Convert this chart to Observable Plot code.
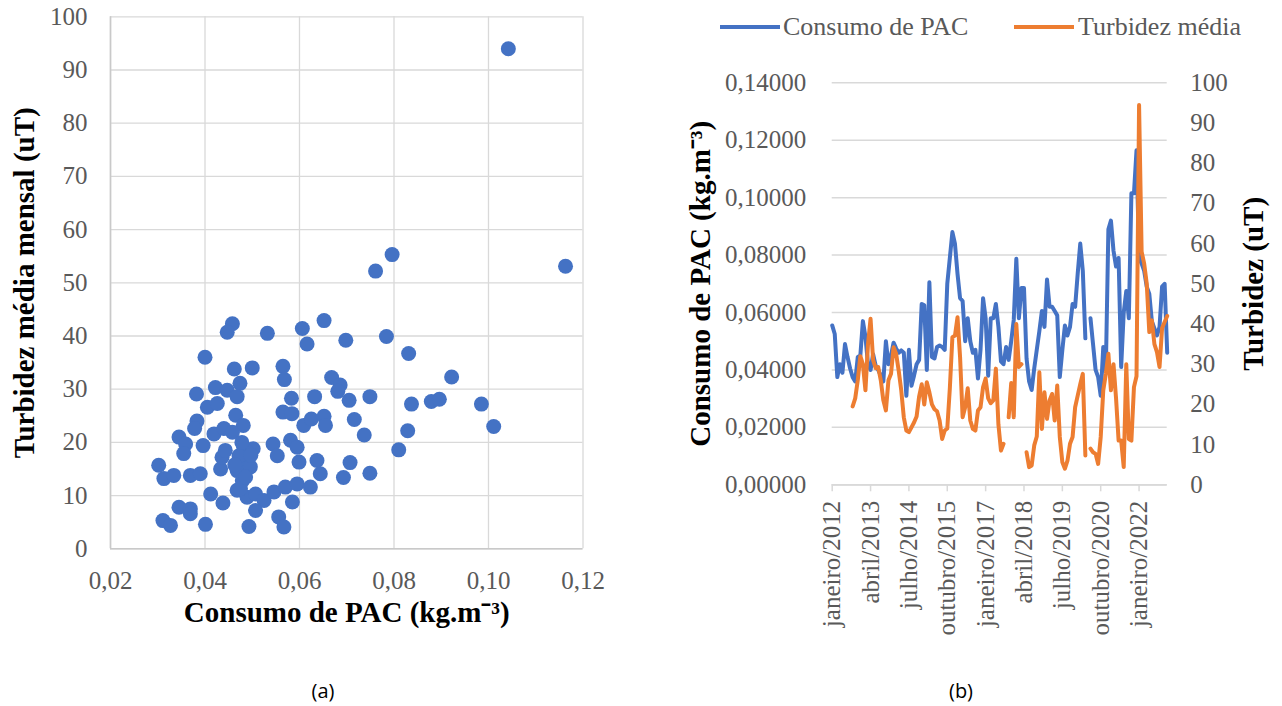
<!DOCTYPE html>
<html>
<head>
<meta charset="utf-8">
<script src="https://cdn.jsdelivr.net/npm/d3@7"></script>
<script src="https://cdn.jsdelivr.net/npm/@observablehq/plot@0.6"></script>
<style>
  html, body { margin: 0; padding: 0; background: #fff; }
  body { width: 1282px; height: 706px; position: relative; overflow: hidden; font-family: "Liberation Serif", "Times New Roman", serif; }
  #panelA { position: absolute; left: 0; top: 0; }
  #panelB { position: absolute; left: 640px; top: 0; }
  .legline { position: absolute; height: 4px; top: 25px; }
  .legtext { position: absolute; top: 12px; font-size: 26px; line-height: 30px; color: #595959; white-space: nowrap; }
  .cap { position: absolute; top: 677px; font-family: "Open Sans", "Liberation Sans", sans-serif; font-size: 20px; line-height: 28px; color: #000; transform: translateX(-50%); }
</style>
</head>
<body>
<div id="panelA"></div>
<div id="panelB"></div>
<div class="legline" style="left:720px;width:60px;background:#4472C4"></div>
<div class="legtext" style="left:783px">Consumo de PAC</div>
<div class="legline" style="left:1014px;width:60px;background:#ED7D31"></div>
<div class="legtext" style="left:1078px">Turbidez média</div>
<div class="cap" style="left:323px">(a)</div>
<div class="cap" style="left:961px">(b)</div>
<script>
// ---------- Panel (a): scatter data ----------
const pacScatter = [
  0.0458, 0.0447, 0.0532, 0.0606, 0.0652, 0.0616, 0.0400, 0.0462, 0.0500, 0.0565,
  0.0568, 0.0668, 0.0382, 0.0422, 0.0447, 0.0474, 0.0468, 0.0405, 0.0426, 0.0583,
  0.0632, 0.0565, 0.0584, 0.0383, 0.0378, 0.0465, 0.0481, 0.0609, 0.0625, 0.0652,
  0.0655, 0.0345, 0.0359, 0.0355, 0.0396, 0.0419, 0.0440, 0.0458, 0.0482, 0.0502,
  0.0489, 0.0544, 0.0553, 0.0581, 0.0595, 0.0599, 0.0637, 0.0644, 0.0302, 0.0313,
  0.0334, 0.0369, 0.0390, 0.0433, 0.0436, 0.0443, 0.0468, 0.0479, 0.0468, 0.0489,
  0.0507, 0.0525, 0.0507, 0.0412, 0.0438, 0.0546, 0.0570, 0.0595, 0.0623, 0.0585,
  0.0345, 0.0369, 0.0369, 0.0311, 0.0327, 0.0401, 0.0493, 0.0556, 0.0567, 0.0475,
  0.0489, 0.0496, 0.0472, 0.0486, 0.0463, 0.0497, 0.0478,
  0.0796, 0.0761, 0.1163, 0.0698, 0.0784, 0.0831, 0.0686, 0.0681, 0.0705, 0.0749,
  0.0837, 0.0879, 0.0896, 0.0922, 0.0985, 0.1011, 0.0716, 0.0737, 0.0829, 0.0810,
  0.0707, 0.0693, 0.0749, 0.1042
];
const turbScatter = [
  42.3, 40.7, 40.5, 41.4, 42.9, 38.5, 36.0, 33.8, 34.0, 34.3,
  31.8, 32.2, 29.1, 30.3, 29.8, 31.1, 28.6, 26.6, 27.3, 28.3,
  28.6, 25.7, 25.4, 24.0, 22.6, 25.1, 23.2, 23.2, 24.4, 24.9,
  23.2, 21.0, 19.7, 17.9, 19.4, 21.6, 22.6, 21.9, 19.1, 18.8,
  16.6, 19.7, 17.5, 20.4, 19.1, 16.3, 16.6, 14.1, 15.7, 13.2,
  13.8, 13.8, 14.1, 15.0, 17.2, 18.5, 14.7, 12.8, 11.0, 9.7,
  10.3, 9.1, 7.2, 10.3, 8.6, 10.7, 11.6, 12.2, 11.6, 8.8,
  7.8, 7.5, 6.6, 5.3, 4.4, 4.6, 4.2, 6.0, 4.1, 11.3,
  18.2, 15.4, 17.5, 13.5, 15.8, 17.6, 20.0,
  55.3, 52.2, 53.1, 39.2, 39.9, 36.7, 30.8, 29.6, 27.9, 28.6,
  27.2, 27.7, 28.1, 32.3, 27.2, 23.0, 24.3, 21.4, 22.2, 18.6,
  16.2, 13.4, 14.2, 94.0
];
const xTicksA = [0.02, 0.04, 0.06, 0.08, 0.10, 0.12];
const yTicksA = [0, 10, 20, 30, 40, 50, 60, 70, 80, 90, 100];

// ---------- Panel (b): monthly series, janeiro/2012 ... dezembro/2022 ----------
const pacMonthly = [
  0.0555, 0.0525, 0.0375, 0.0420, 0.0390, 0.0490, 0.0445, 0.0405, 0.0375, 0.0360,
  0.0445, 0.0450, 0.0570, 0.0515, 0.0420, 0.0400, 0.0455, 0.0415, 0.0400, 0.0380,
  0.0360, 0.0500, 0.0420, 0.0450, 0.0495, 0.0475, 0.0460, 0.0468, 0.0460, 0.0310,
  0.0470, 0.0345, 0.0380, 0.0420, 0.0435, 0.0630, 0.0625, 0.0400, 0.0705, 0.0445,
  0.0440, 0.0480, 0.0485, 0.0480, 0.0470, 0.0700, 0.0790, 0.0880, 0.0840, 0.0735,
  0.0650, 0.0640, 0.0500, 0.0580, 0.0500, 0.0460, 0.0470, 0.0370, 0.0470, 0.0650,
  0.0580, 0.0380, 0.0580, 0.0580, 0.0630, 0.0550, 0.0430, 0.0420, 0.0480, 0.0435,
  0.0500, 0.0575, 0.0787, 0.0580, 0.0685, 0.0685, 0.0440, 0.0360, 0.0330, 0.0405,
  0.0470, 0.0535, 0.0605, 0.0550, 0.0715, 0.0620, 0.0620, 0.0605, 0.0590, 0.0375,
  0.0470, 0.0555, 0.0520, 0.0550, 0.0630, 0.0620, 0.0735, 0.0840, 0.0745, 0.0510,
  null,   0.0580, 0.0490, 0.0400, 0.0375, 0.0310, 0.0480, 0.0400, 0.0890, 0.0920,
  0.0815, 0.0760, 0.0790, 0.0410, 0.0600, 0.0675, 0.0580, 0.1015, 0.1015, 0.1165,
  0.0790, 0.0770, 0.0745, 0.0690, 0.0665, 0.0570, 0.0545, 0.0520, 0.0550, 0.0690,
  0.0700, 0.0460
];
const turbMonthly = [
  null, null, null, null, null, null, null, null, 19.5, 21.5,
  26.0, 32.0, 30.0, 23.5, 35.0, 41.3, 31.0, 29.0, 29.3, 26.0,
  21.0, 18.5, 26.0, 27.6, 34.2, 32.6, 28.4, 23.5, 16.8, 13.5,
  13.1, 14.3, 15.5, 17.0, 22.0, 25.0, 20.0, 25.5, 23.0, 20.0,
  18.8, 18.3, 16.0, 11.4, 13.5, 14.0, 24.0, 36.7, 37.1, 41.7,
  31.8, 16.8, 19.3, 24.0, 16.0, 13.9, 13.5, 18.5, 19.3, 24.3,
  26.4, 21.5, 20.3, 21.0, 28.9, 15.0, 8.5, 10.2, null, 16.8,
  25.3, 16.8, 40.0, 29.3, 30.0, null, 8.1, 4.4, 4.8, 9.8,
  12.0, 28.0, 13.9, 23.0, 16.4, 21.0, 22.6, 16.0, 24.7, 11.9,
  5.6, 4.0, 6.0, 10.2, 11.9, 19.3, 22.2, 25.0, 27.6, 7.3,
  null, 9.0, 8.1, 7.7, 5.2, 11.9, 23.5, 27.6, 32.6, 23.5,
  30.0, 21.5, 11.0, 11.0, 4.4, 30.0, 11.4, 11.0, 24.3, 27.0,
  94.5, 58.0, 55.0, 50.0, 38.0, 40.9, 35.0, 33.0, 29.3, 39.0,
  40.5, 42.0
];
const tickLabelsB = ["janeiro/2012", "abril/2013", "julho/2014", "outubro/2015", "janeiro/2017",
                     "abril/2018", "julho/2019", "outubro/2020", "janeiro/2022"];
const pacTicksB = [0, 0.02, 0.04, 0.06, 0.08, 0.10, 0.12, 0.14];
const turbTicksB = [0, 10, 20, 30, 40, 50, 60, 70, 80, 90, 100];

const FONT = "'Liberation Serif', 'Times New Roman', serif";
const GRAY = "#595959";
const GRID = "#d9d9d9";

// ---------- Panel (a) ----------
const scatter = pacScatter.map((p, i) => ({pac: p, turb: turbScatter[i]}));
const comma = (d, n) => d.toFixed(n).replace(".", ",");

const chartA = Plot.plot({
  width: 640, height: 650,
  marginLeft: 110, marginRight: 57.5, marginTop: 16.3, marginBottom: 101.7,
  style: {fontFamily: FONT, background: "transparent", overflow: "visible"},
  x: {domain: [0.02, 0.12]},
  y: {domain: [0, 100]},
  marks: [
    Plot.gridX(xTicksA, {stroke: GRID, strokeOpacity: 1, strokeWidth: 1.3}),
    Plot.gridY(yTicksA, {stroke: GRID, strokeOpacity: 1, strokeWidth: 1.3}),
    Plot.ruleX([0.02], {stroke: "#c9c9c9", strokeWidth: 1.6}),
    Plot.ruleY([0], {stroke: "#c9c9c9", strokeWidth: 1.6}),
    Plot.axisX(xTicksA, {tickSize: 0, tickPadding: 22, fontSize: 25, fill: GRAY, tickFormat: d => comma(d, 2), label: null}),
    Plot.axisY(yTicksA, {tickSize: 0, tickPadding: 23, fontSize: 25, fill: GRAY, label: null}),
    Plot.dot(scatter, {x: "pac", y: "turb", r: 7.5, fill: "#4472C4"}),
    Plot.text(["Consumo de PAC (kg.m⁻³)"], {text: d => d, frameAnchor: "bottom", textAnchor: "middle", dy: 73, fontSize: 29, fontWeight: "bold", fill: "#000"}),
    Plot.text(["Turbidez média mensal (uT)"], {text: d => d, frameAnchor: "left", textAnchor: "middle", dx: -86, rotate: -90, fontSize: 29, fontWeight: "bold", fill: "#000"})
  ]
});
document.getElementById("panelA").appendChild(chartA);

// ---------- Panel (b) ----------
const K = 0.14 / 100; // secondary axis: 0..100 uT mapped onto 0..0.14
const monthly = pacMonthly.map((v, i) => ({i, pac: v, turb: turbMonthly[i]}));
const xTicksB = tickLabelsB.map((_, k) => k * 15);

const chartB = Plot.plot({
  width: 642, height: 650,
  marginLeft: 191.7, marginRight: 115.3, marginTop: 82.3, marginBottom: 165.7,
  style: {fontFamily: FONT, background: "transparent", overflow: "visible"},
  x: {domain: [0, pacMonthly.length - 1]},
  y: {domain: [0, 0.14]},
  marks: [
    Plot.gridY(pacTicksB, {stroke: GRID, strokeOpacity: 1, strokeWidth: 1.5}),
    Plot.ruleY([0], {stroke: GRID, strokeWidth: 1.8}),
    Plot.axisX(xTicksB, {tickSize: 7, tickPadding: 9, tickRotate: -90, stroke: GRID, strokeWidth: 1.5, fill: GRAY, fontSize: 25,
                         tickFormat: d => tickLabelsB[d / 15], label: null}),
    Plot.axisY(pacTicksB, {anchor: "left", tickSize: 0, tickPadding: 26, fontSize: 25, fill: GRAY, tickFormat: d => comma(d, 5), label: null}),
    Plot.axisY(turbTicksB.map(t => t * K), {anchor: "right", tickSize: 0, tickPadding: 23, fontSize: 25, fill: GRAY,
                                            tickFormat: d => String(Math.round(d / K)), label: null}),
    Plot.line(monthly, {x: "i", y: d => d.pac == null ? NaN : d.pac, stroke: "#4472C4", strokeWidth: 4, strokeLinejoin: "round", strokeLinecap: "round"}),
    Plot.line(monthly, {x: "i", y: d => d.turb == null ? NaN : d.turb * K, stroke: "#ED7D31", strokeWidth: 4, strokeLinejoin: "round", strokeLinecap: "round"}),
    Plot.text(["Consumo de PAC (kg.m⁻³)"], {text: d => d, frameAnchor: "left", textAnchor: "middle", dx: -131.7, rotate: -90, fontSize: 29, fontWeight: "bold", fill: "#000"}),
    Plot.text(["Turbidez (uT)"], {text: d => d, frameAnchor: "right", textAnchor: "middle", dx: 86.3, rotate: -90, fontSize: 29, fontWeight: "bold", fill: "#000"})
  ]
});
document.getElementById("panelB").appendChild(chartB);
</script>
</body>
</html>
